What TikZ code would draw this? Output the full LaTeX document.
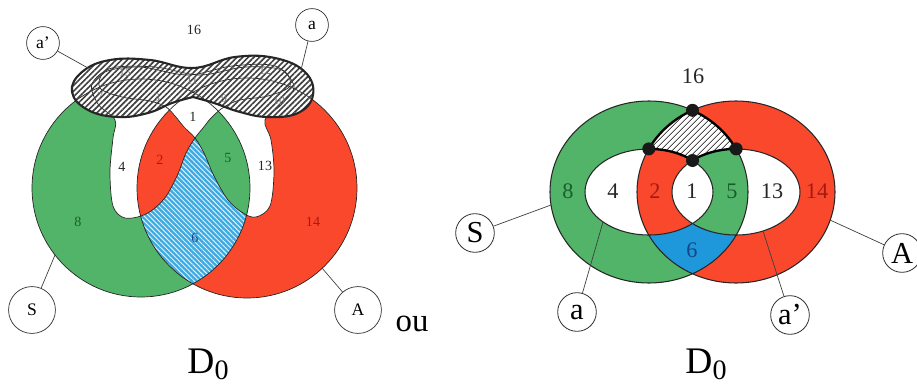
\documentclass[tikz,border=0pt]{standalone}
\usepackage{fontspec}
\setmainfont{Liberation Serif}
\usepackage{tikz}
\usetikzlibrary{patterns.meta}
\definecolor{sgreen}{RGB}{82,180,104}
\definecolor{ared}{RGB}{250,72,44}
\definecolor{cblue}{RGB}{30,152,218}
\definecolor{lblue}{RGB}{62,170,226}
\definecolor{dgreen}{RGB}{25,95,45}
\definecolor{dred}{RGB}{165,25,20}
\definecolor{dblue}{RGB}{20,70,135}

\begin{document}
\begin{tikzpicture}[x=0.03cm, y=-0.03cm,
		edge/.style={draw=black!85, line width=0.6pt},
		redge/.style={draw=black!85, line width=0.9pt},
		wire/.style={draw=black!75, line width=0.6pt},
		num/.style={font=\fontsize{12}{14}\selectfont, text=black!85},
		bandnum/.style={font=\fontsize{10}{12}\selectfont, text=black!55},
		rnum/.style={font=\fontsize{19}{22}\selectfont, text=black!85},
		ltag/.style={circle, draw=black!80, line width=0.6pt, minimum size=28pt, inner sep=0pt, font=\fontsize{15}{16}\selectfont},
		lbigtag/.style={ltag, minimum size=40pt},
		rtag/.style={circle, draw=black!80, line width=0.7pt, minimum size=33pt, inner sep=0pt, font=\fontsize{26}{28}\selectfont},
		dzero/.style={font=\fontsize{32}{34}\selectfont}]
	\useasboundingbox (0, 0) rectangle (917, 390);
	
	\path[save path=\bandLeft] plot[smooth, tension=0.7] coordinates {(193, 97) (172, 103) (148, 113) (118, 117) (88, 110) (72, 92) (82, 72) (110, 60) (150, 60) (193, 68) (235, 57) (275, 58) (305, 72) (313, 95) (298, 113) (268, 117) (240, 112) (214, 103) (193, 97)} -- cycle;
	\path[save path=\loopL] plot[smooth cycle, tension=0.55] coordinates {(125, 218) (113, 206) (110, 172) (113, 138) (115, 120) (98, 104) (92, 84) (112, 68) (155, 67) (200, 75) (245, 67) (282, 70) (290, 86) (268, 96) (240, 100) (224, 107) (212, 117) (203, 128) (195, 138) (186, 153) (177, 176) (164, 199) (146, 214)};
	\path[save path=\loopR] plot[smooth cycle, tension=0.55] coordinates {(256, 217) (270, 206) (274, 172) (271, 140) (265, 120) (282, 104) (294, 86) (275, 66) (232, 66) (188, 75) (140, 67) (105, 72) (100, 88) (122, 97) (150, 101) (166, 107) (175, 116) (184, 127) (195, 138) (204, 153) (214, 176) (228, 200) (243, 213)};
	
	\fill[sgreen] (141, 188) circle[radius=109];
	\fill[ared] (247, 188) circle[radius=110];
	\begin{scope}
		\clip (141, 188) circle[radius=109];
		\fill[lblue] (247, 188) circle[radius=110];
		\fill[pattern={Lines[angle=-45, distance=3pt, line width=0.8pt]}, pattern color=white!85!lblue] (247, 188) circle[radius=110];
	\end{scope}
	\fill[white, use path=\loopL];
	\begin{scope}
		\clip[use path=\loopL];
		\fill[ared] (247, 188) circle[radius=110];
	\end{scope}
	\fill[white, use path=\loopR];
	\begin{scope}
		\clip[use path=\loopR];
		\fill[sgreen] (141, 188) circle[radius=109];
		\fill[white, use path=\loopL];
	\end{scope}
	
	\fill[white, use path=\bandLeft];
	\draw[edge] (141, 188) circle[radius=109];
	\draw[edge] (247, 188) circle[radius=110];
	\draw[edge, use path=\loopL];
	\draw[edge, use path=\loopR];
	\fill[pattern={Lines[angle=45, distance=3.4pt, line width=1.4pt]}, pattern color=black!75, use path=\bandLeft];
	\draw[black!85, line width=1.8pt, use path=\bandLeft];
	
	\node[bandnum] (lN15) at (125, 73) {15};
	\node[bandnum] (lN11) at (192, 81) {11};
	\node[bandnum] (lN12) at (265, 71) {12};
	\node[bandnum] (lN7) at (100, 97) {7};
	\node[bandnum] (lN3) at (157, 98) {3};
	\node[bandnum] (lN9) at (224, 99) {9};
	\node[bandnum] (lN10) at (279, 101) {10};
	
	\node[num] (lN16) at (194, 30) {16};
	\node[num] (lN1) at (193, 117) {1};
	\node[num] (lN4) at (122, 167) {4};
	\node[num, text=dred] (lN2) at (160, 160) {2};
	\node[num, text=dgreen] (lN5) at (228, 158) {5};
	\node[num] (lN13) at (265, 166) {13};
	\node[num, text=dgreen] (lN8) at (78, 222) {8};
	\node[num, text=dred] (lN14) at (313, 222) {14};
	\node[num, text=dblue] (lN6) at (195, 238) {6};
	
	\node[ltag] (lTagAp) at (43, 43) {a'};
	\coordinate (lEndAp) at (88, 68);
	\draw[wire] (lTagAp) -- (lEndAp);
	\node[ltag] (lTagA) at (312, 25) {a};
	\coordinate (lEndA) at (301, 70);
	\draw[wire] (lTagA) -- (lEndA);
	\node[lbigtag] (lTagS) at (32, 310) {S};
	\coordinate (lEndS) at (55, 255);
	\draw[wire] (lTagS) -- (lEndS);
	\node[lbigtag] (lTagBigA) at (358, 310) {A};
	\coordinate (lEndBigA) at (322, 268);
	\draw[wire] (lTagBigA) -- (lEndBigA);
	
	\node[font=\fontsize{28}{30}\selectfont] (ou) at (412, 324) {ou};
	\node[dzero] (lD) at (208, 364) {D{\fontsize{24}{25}\selectfont\raisebox{-0.22em}{0}}};
	
	\fill[sgreen] (649, 192) ellipse[x radius=99, y radius=91];
	\fill[ared] (736, 192) ellipse[x radius=99, y radius=91];
	\begin{scope}
		\clip (649, 192) ellipse[x radius=99, y radius=91];
		\fill[cblue] (736, 192) ellipse[x radius=99, y radius=91];
	\end{scope}
	\fill[white] (649, 192) ellipse[x radius=64, y radius=43];
	\begin{scope}
		\clip (649, 192) ellipse[x radius=64, y radius=43];
		\fill[ared] (736, 192) ellipse[x radius=99, y radius=91];
	\end{scope}
	\fill[white] (736, 192) ellipse[x radius=64, y radius=43];
	\begin{scope}
		\clip (736, 192) ellipse[x radius=64, y radius=43];
		\fill[sgreen] (649, 192) ellipse[x radius=99, y radius=91];
		\fill[white] (649, 192) ellipse[x radius=64, y radius=43];
	\end{scope}
	\draw[redge] (649, 192) ellipse[x radius=99, y radius=91];
	\draw[redge] (736, 192) ellipse[x radius=99, y radius=91];
	\draw[redge] (649, 192) ellipse[x radius=64, y radius=43];
	\draw[redge] (736, 192) ellipse[x radius=64, y radius=43];
	
	\coordinate (rLeftDot) at (648.8, 148.9);
	\coordinate (rTopDot) at (692.5, 110.3);
	\coordinate (rRightDot) at (736.2, 148.9);
	\coordinate (rMidDot) at (692.5, 160.5);
	\path[save path=\capRight] (rLeftDot) arc[start angle=208.3, end angle=243.9, x radius=99, y radius=91]
		arc[start angle=296.1, end angle=331.7, x radius=99, y radius=91]
		arc[start angle=270, end angle=227.2, x radius=64, y radius=43]
		arc[start angle=312.8, end angle=270, x radius=64, y radius=43] -- cycle;
	\fill[white, use path=\capRight];
	\fill[pattern={Lines[angle=45, distance=4pt, line width=0.9pt]}, pattern color=black!70, use path=\capRight];
	\draw[black, line width=2pt, line join=round, use path=\capRight];
	\foreach \d in {rLeftDot, rTopDot, rRightDot, rMidDot}
		\fill[black!90] (\d) circle[radius=6.5];
	
	\node[rnum] (rN16) at (693, 76) {16};
	\node[rnum, text=dgreen] (rN8) at (568, 191) {8};
	\node[rnum] (rN4) at (613, 191) {4};
	\node[rnum, text=dred] (rN2) at (655, 191) {2};
	\node[rnum] (rN1) at (692, 191) {1};
	\node[rnum, text=dgreen] (rN5) at (732, 191) {5};
	\node[rnum] (rN13) at (772, 191) {13};
	\node[rnum, text=dred] (rN14) at (817, 191) {14};
	\node[rnum, text=dblue] (rN6) at (692, 250) {6};
	
	\node[rtag] (rTagS) at (475, 233) {S};
	\coordinate (rEndS) at (551, 205);
	\draw[wire] (rTagS) -- (rEndS);
	\node[rtag] (rTagBigA) at (902, 253) {A};
	\coordinate (rEndBigA) at (830, 220);
	\draw[wire] (rTagBigA) -- (rEndBigA);
	\node[rtag] (rTagA) at (577, 312) {a};
	\coordinate (rEndA) at (603, 222);
	\draw[wire] (rTagA) -- (rEndA);
	\node[rtag] (rTagAp) at (790, 315) {a'};
	\coordinate (rEndAp) at (763, 231);
	\draw[wire] (rTagAp) -- (rEndAp);
	
	\node[dzero] (rD) at (706, 364) {D{\fontsize{24}{25}\selectfont\raisebox{-0.22em}{0}}};
	
\end{tikzpicture}
\end{document}
